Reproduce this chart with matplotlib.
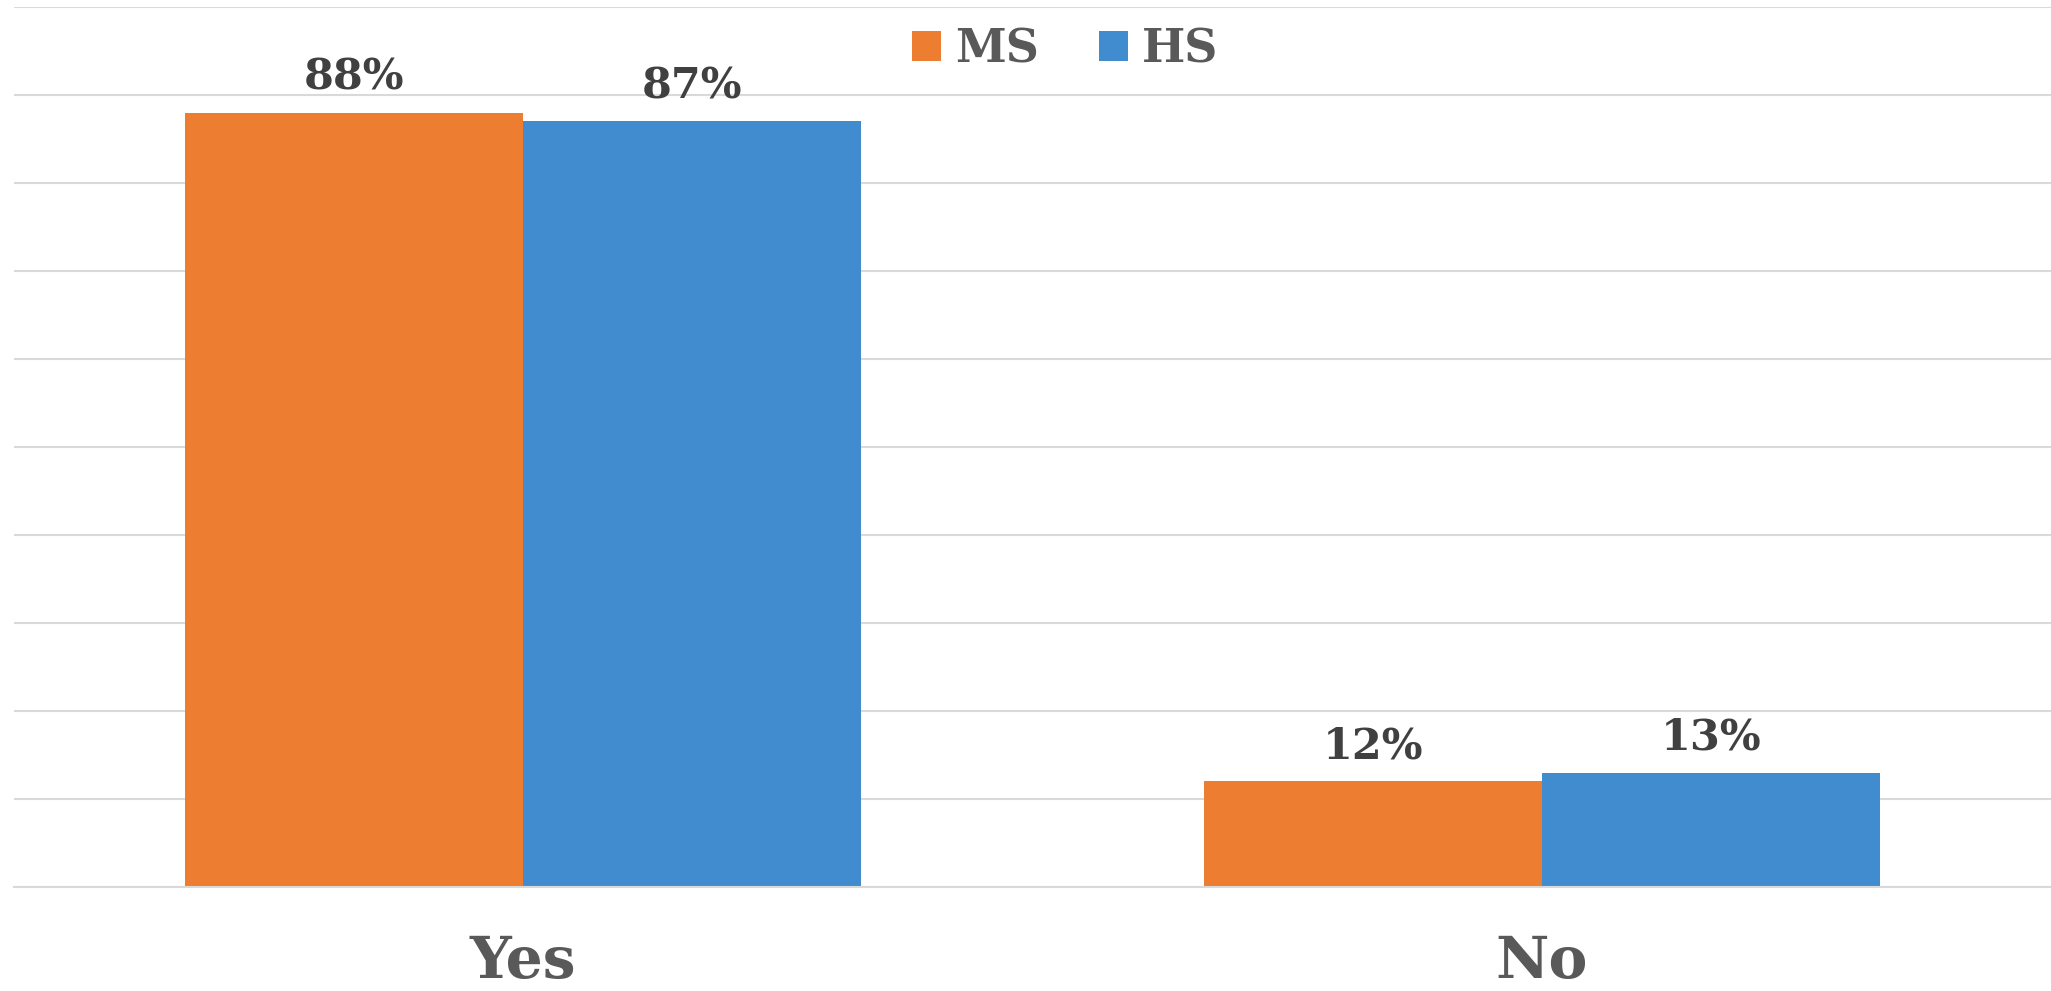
import matplotlib
matplotlib.use("Agg")
import matplotlib.pyplot as plt
import numpy as np

# data
categories = ["Yes", "No"]
series_names = ["MS", "HS"]
ms_values = [88, 12]
hs_values = [87, 13]

# style
ORANGE = "#ED7D31"
BLUE = "#418CCE"
GRID = "#D9D9D9"
LABEL_FG = "#404040"
CAT_FG = "#595959"
FONT = "DejaVu Serif"

fig = plt.figure(figsize=(20.51, 9.91), dpi=100)
ax = fig.add_axes([0.0068, 0.105, 0.9932, 0.888])

x = np.arange(len(categories))
w = 0.332
bars_ms = ax.bar(x - w / 2, ms_values, w, color=ORANGE, label=series_names[0], zorder=2)
bars_hs = ax.bar(x + w / 2, hs_values, w, color=BLUE, label=series_names[1], zorder=2)

for bars, vals in ((bars_ms, ms_values), (bars_hs, hs_values)):
    for b, v in zip(bars, vals):
        ax.annotate(f"{v}%", (b.get_x() + b.get_width() / 2, v),
                    xytext=(0, 10), textcoords="offset points",
                    ha="center", va="bottom", fontsize=31, fontweight="bold",
                    color=LABEL_FG, family=FONT)

ax.set_xlim(-0.5, 1.5)
ax.set_ylim(0, 100)
ax.set_yticks(np.arange(0, 101, 10))
ax.yaxis.grid(True, color=GRID, linewidth=1.5, zorder=0)
ax.tick_params(axis="y", left=False, labelleft=False)
ax.set_xticks(x)
ax.set_xticklabels(categories, fontsize=42, fontweight="bold", color=CAT_FG, family=FONT)
ax.tick_params(axis="x", length=0, pad=34)
for s in ("top", "right", "left"):
    ax.spines[s].set_visible(False)
ax.spines["bottom"].set_color(GRID)
ax.spines["bottom"].set_linewidth(1.5)

leg = ax.legend(loc="upper center", bbox_to_anchor=(0.516, 1.025), ncol=2, frameon=False,
                handlelength=0.65, handleheight=0.65, handletextpad=0.3, columnspacing=1.3,
                prop={"family": FONT, "weight": "bold", "size": 33})
for t in leg.get_texts():
    t.set_color(CAT_FG)

fig.savefig("out.png", dpi=100, facecolor="white")
